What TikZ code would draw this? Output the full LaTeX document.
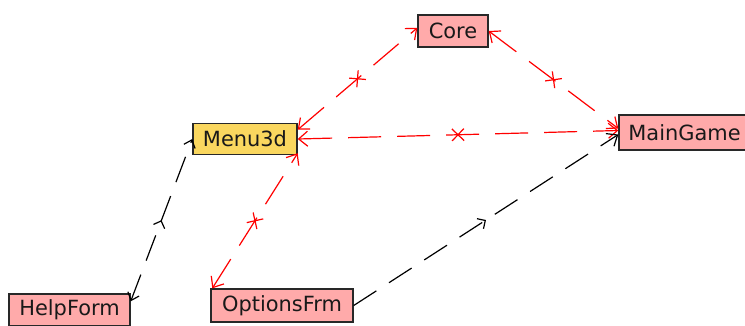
\documentclass[tikz,border=0pt]{standalone}
\usepackage{fontspec}
\newfontfamily\lblfont{DejaVu Sans}
\usetikzlibrary{arrows.meta,decorations.markings}
\definecolor{clspink}{RGB}{255,170,170}
\definecolor{clsyellow}{RGB}{250,215,95}
\definecolor{clsborder}{RGB}{40,40,40}
\tikzset{
  cls/.style={draw=clsborder, line width=1.4bp, fill=clspink, inner sep=0pt,
    font=\lblfont\fontsize{21}{24}\selectfont, text=black!90},
  redlink/.style={draw=red, line width=1.2bp, dash pattern=on 33bp off 16bp,
    postaction={decorate,decoration={markings,mark=at position 0.5 with
      {\draw[red,solid,-,line width=1.2bp] (-6bp,-6bp)--(6bp,6bp) (-6bp,6bp)--(6bp,-6bp);}}}},
  blacklink/.style={draw=black, line width=1.2bp, dash pattern=on 27bp off 15bp,
    postaction={decorate,decoration={markings,mark=at position 0.5 with
      {\arrow[black,solid,line width=1.2bp]{Straight Barb[length=6bp,width=12bp]}}}}}
}
\begin{document}
\begin{tikzpicture}[x=1bp,y=-1bp]
\useasboundingbox (0,0) rectangle (745,325);
\node[cls, minimum width=70bp, minimum height=32bp] (core) at (453,31) {Core};
\node[cls, fill=clsyellow, minimum width=104bp, minimum height=31bp] (menu) at (245,139) {Menu3d};
\node[cls, minimum width=131bp, minimum height=35bp] (main) at (684.5,132.5) {MainGame};
\node[cls, minimum width=121bp, minimum height=32bp] (help) at (69.5,310) {HelpForm};
\node[cls, minimum width=142bp, minimum height=33bp] (opt) at (282,305.5) {OptionsFrm};

\draw[redlink, {Straight Barb[length=9bp,width=15bp]}-{Straight Barb[length=9bp,width=15bp]}] (menu.10) -- (core.175);
\draw[redlink, {Straight Barb[length=9bp,width=15bp]}-{Straight Barb[length=9bp,width=15bp]}] (core.east) -- ([yshift=4bp]main.west);
\draw[redlink, {Straight Barb[length=9bp,width=15bp]}-{Straight Barb[length=9bp,width=15bp]}] (menu.east) -- ([yshift=2bp]main.west);
\draw[redlink, {Straight Barb[length=9bp,width=15bp]}-{Straight Barb[length=9bp,width=15bp]}] ([xshift=2bp]opt.north west) -- ([yshift=2bp]menu.south east);
\draw[blacklink, {Straight Barb[length=7bp,width=12bp]}-{Straight Barb[length=7bp,width=12bp]}] ([yshift=-8bp]help.north east) -- (menu.west);
\draw[blacklink, -{Straight Barb[length=9bp,width=15bp]}] (opt.east) -- ([yshift=-2bp]main.west);
\end{tikzpicture}
\end{document}
